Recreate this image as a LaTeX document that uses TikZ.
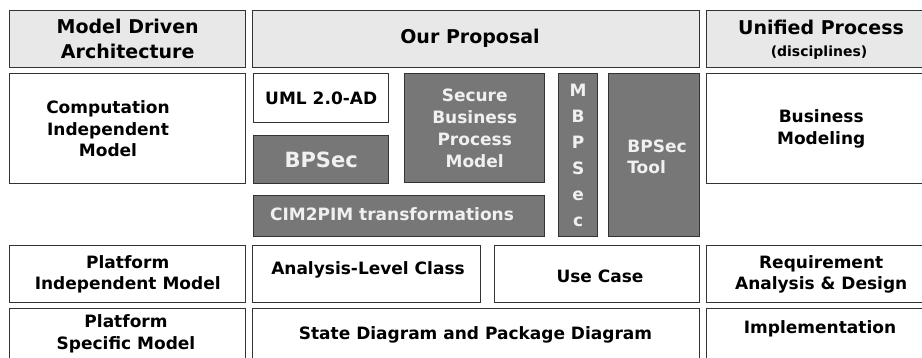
\documentclass[tikz,border=0pt]{standalone}
\usepackage{fontspec}
\setmainfont{DejaVu Sans}
\definecolor{edge}{HTML}{333333}
\definecolor{headfill}{HTML}{E8E8E8}
\definecolor{darkfill}{HTML}{777777}
\definecolor{darktext}{HTML}{F0F0F0}
\newcommand{\bodyfont}{\fontsize{17}{21.5}\selectfont\bfseries}
\newcommand{\headfont}{\fontsize{19}{25}\selectfont\bfseries}
\begin{document}
\begin{tikzpicture}[x=1pt,y=-1pt,
  panel/.style={draw=edge, line width=1.4pt, fill=white, inner sep=0pt,
    anchor=north west, align=center, font=\bodyfont, text=black},
  headpanel/.style={panel, fill=headfill, font=\headfont},
  darkpanel/.style={panel, fill=darkfill, text=darktext},
  words/.style={inner sep=0pt, align=center, font=\bodyfont},
  sz/.style 2 args={minimum width=#1pt, minimum height=#2pt}]
\useasboundingbox (0,0) rectangle (922,358);
\clip (0,0) rectangle (922,358);

% header row
\node[headpanel, sz={236}{57}] (mda) at (9,10) {Model Driven\\Architecture};
\node[headpanel, sz={447}{57}] (prop) at (252,10) {};
\node[words, font=\headfont] (propt) at (470,38) {Our Proposal};
\node[headpanel, sz={229}{57}] (up) at (706,10) {};
\node[words, font=\headfont, anchor=base] (upt) at (821,35) {Unified Process};
\node[words, font=\fontsize{14}{17}\selectfont\bfseries, anchor=base] (upd) at (819,57) {(disciplines)};

% computation independent level
\node[panel, sz={236}{110}] (cim) at (9,73) {};
\node[words] (cimt) at (108,129) {Computation\\Independent\\Model};
\node[panel, sz={135}{49}] (uml) at (253,73) {UML 2.0-AD};
\node[darkpanel, sz={135}{48}, font=\fontsize{21}{25}\selectfont\bfseries] (bpsec) at (253,135) {BPSec};
\node[darkpanel, sz={140}{109}, font=\fontsize{17}{22.2}\selectfont\bfseries] (sbpm) at (404,73) {Secure\\Business\\Process\\Model};
\node[darkpanel, sz={291}{41}] (c2p) at (253,195) {};
\node[words, text=darktext] (c2pt) at (392,214) {CIM2PIM transformations};
\node[darkpanel, sz={39}{163}, font=\fontsize{17}{26}\selectfont\bfseries] (mbp) at (558,73) {M\\B\\P\\S\\e\\c};
\node[darkpanel, sz={91}{163}] (tool) at (608,73) {};
\node[words, align=left, text=darktext] (toolt) at (657,157) {BPSec\\Tool};
\node[panel, sz={229}{110}] (bm) at (706,73) {Business\\Modeling};

% platform independent level
\node[panel, sz={236}{57}] (pim) at (9,245) {Platform\\Independent Model};
\node[panel, sz={228}{57}] (alc) at (252,245) {};
\node[words] (alct) at (368,270) {Analysis-Level Class};
\node[panel, sz={205}{57}] (uc) at (494,245) {};
\node[words] (uct) at (600,276) {Use Case};
\node[panel, sz={229}{57}] (rad) at (706,245) {Requirement\\Analysis \& Design};

% platform specific level
\node[panel, sz={236}{62}] (psm) at (9,308) {};
\node[words] (psmt) at (126,334) {Platform\\Specific Model};
\node[panel, sz={447}{62}] (sd) at (252,308) {};
\node[words] (sdt) at (475.5,335) {State Diagram and Package Diagram};
\node[panel, sz={229}{62}] (impl) at (706,308) {};
\node[words] (implt) at (820,329) {Implementation};
\end{tikzpicture}
\end{document}
